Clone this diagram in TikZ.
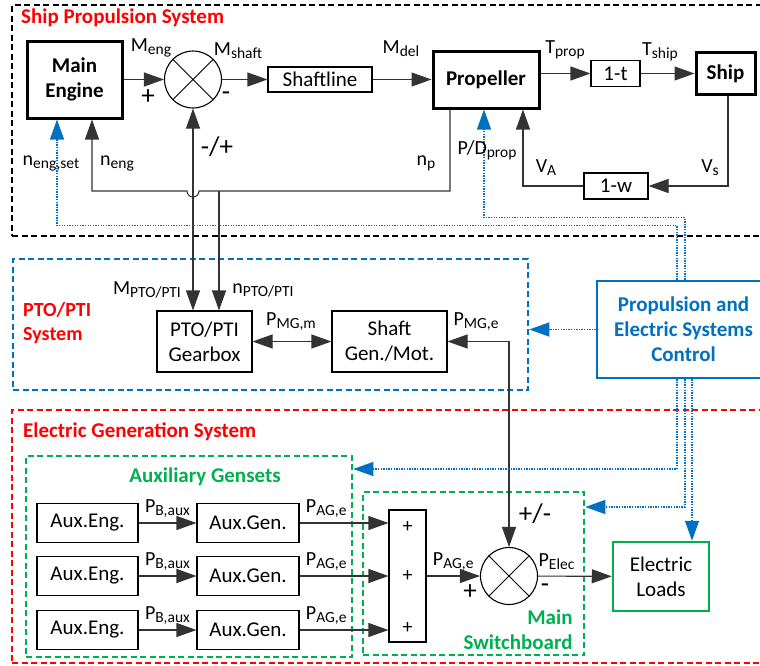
\documentclass[tikz,border=0pt]{standalone}
\usepackage{fontspec}
\setmainfont{Carlito}
\usepackage{tikz}
\usetikzlibrary{arrows.meta}
\usetikzlibrary{positioning}
\definecolor{sysred}{RGB}{255,0,0}
\definecolor{ctlblue}{RGB}{0,112,192}
\definecolor{grpgreen}{RGB}{0,176,80}
\newcommand{\lsub}[1]{\raisebox{-3pt}{\fontsize{15.5}{16}\selectfont #1}}

\begin{document}
\begin{tikzpicture}[x=1pt,y=-1pt,font=\fontsize{21}{25}\selectfont,
  >={Triangle[length=20pt,width=14pt]},
  line/.style={draw=black!80,line width=1.1pt},
  blk/.style={draw,line width=1.1pt,align=center,fill=white,inner sep=0pt},
  bigblk/.style={blk,line width=3pt,font=\fontsize{21}{25}\selectfont\bfseries},
  sumc/.style={circle,draw,line width=1.1pt,minimum size=57pt,inner sep=0pt,fill=white,
    path picture={\draw[line width=0.8pt] (path picture bounding box.north west) -- (path picture bounding box.south east)
      (path picture bounding box.north east) -- (path picture bounding box.south west);}},
  grp/.style={draw,line width=2.5pt,dash pattern=on 6pt off 3.5pt,inner sep=0pt},
  ttl/.style={font=\fontsize{21}{25}\selectfont\bfseries,align=left,inner sep=0pt},
  lbl/.style={font=\fontsize{20}{22}\selectfont,inner sep=0pt},
  sgn/.style={font=\fontsize{27}{27}\selectfont,inner sep=0pt},
  ctl/.style={draw=ctlblue,line width=1.3pt,dash pattern=on 1.3pt off 1.3pt}]

  \useasboundingbox (0,0) rectangle (760,665);
  \clip (0,0) rectangle (760,665);

  \node[grp,minimum width=758,minimum height=231] (shipsys) at (391,120.5) {};
  \node[grp,draw=ctlblue,minimum width=515,minimum height=131] (ptosys) at (270.5,324.5) {};
  \node[grp,draw=sysred,minimum width=758,minimum height=253] (elecsys) at (391,536.5) {};
  \node[grp,draw=grpgreen,minimum width=326,minimum height=201] (auxsys) at (189,556.5) {};
  \node[grp,draw=grpgreen,minimum width=221,minimum height=163] (mswsys) at (473.5,573.5) {};

  \node[ttl,text=sysred,anchor=west] (tship) at (21,18) {Ship Propulsion System};
  \node[ttl,text=sysred,anchor=west,font=\fontsize{20}{23.5}\selectfont\bfseries] (tpto) at (23,323) {PTO/PTI\\System};
  \node[ttl,text=sysred,anchor=west] (telec) at (23,432) {Electric Generation System};
  \node[ttl,text=grpgreen] (taux) at (205,477) {Auxiliary Gensets};
  \node[ttl,text=grpgreen,align=right] (tmsw) at (518,630) {Main\\Switchboard};

  % propulsion loop
  \node[bigblk,minimum width=95,minimum height=77] (meng) at (74.5,79.5) {Main\\Engine};
  \node[sumc] (sum1) at (193,79.5) {};
  \node[blk,minimum width=104,minimum height=25] (shaft) at (320,79.5) {Shaftline};
  \node[bigblk,minimum width=106,minimum height=57] (prop) at (486,79.5) {Propeller};
  \node[blk,minimum width=49,minimum height=26] (onet) at (615.5,73.5) {1-t};
  \node[bigblk,minimum width=59,minimum height=42] (ship) at (725.5,73.5) {Ship};
  \node[blk,minimum width=64,minimum height=26] (onew) at (616,186) {1-w};
  \coordinate (hop) at (193,191);
  \coordinate (nsplit) at (219,191);

  \draw[line,->] (meng) -- (sum1);
  \draw[line,->] (sum1) -- (shaft);
  \draw[line,->] (shaft) -- (prop);
  \draw[line,->] (prop.east |- onet) -- (onet);
  \draw[line,->] (onet) -- (ship);
  \draw[line,->] ([xshift=2.5]ship.south) |- (onew);
  \draw[line,->] (onew) -| ([xshift=37]prop.south);
  \draw[line,->] ([xshift=-36]prop.south) |- ([xshift=6]hop) arc[start angle=0,end angle=180,radius=6] -| ([xshift=17.5]meng.south);

  % PTO/PTI
  \node[blk,minimum width=95,minimum height=61] (gear) at (204.5,341.5) {PTO/PTI\\Gearbox};
  \node[blk,minimum width=115,minimum height=61] (sgen) at (389.5,341.5) {Shaft\\Gen./Mot.};
  \draw[line,<->] (sum1) -- (sum1 |- gear.north);
  \draw[line,->] (nsplit) -- (nsplit |- gear.north);
  \draw[line,<->] (gear) -- (sgen);

  % electric side
  \node[blk,minimum width=101,minimum height=39] (aeng1) at (87.5,523) {Aux.Eng.};
  \node[blk,minimum width=101,minimum height=39] (aeng2) at (87.5,576) {Aux.Eng.};
  \node[blk,minimum width=101,minimum height=39] (aeng3) at (87.5,630) {Aux.Eng.};
  \node[blk,minimum width=102,minimum height=39] (agen1) at (248,523) {Aux.Gen.};
  \node[blk,minimum width=102,minimum height=39] (agen2) at (248,576) {Aux.Gen.};
  \node[blk,minimum width=102,minimum height=39] (agen3) at (248,630) {Aux.Gen.};
  \node[blk,minimum width=37,minimum height=132] (bus) at (407.5,576) {};
  \node[lbl] (bp1) at (407.5,527) {+};
  \node[lbl] (bp2) at (407.5,576) {+};
  \node[lbl] (bp3) at (407.5,628) {+};
  \node[sumc] (sum2) at (509,576) {};
  \node[blk,draw=grpgreen,line width=2.5pt,minimum width=96,minimum height=69] (loads) at (661,576.5) {Electric\\Loads};

  \draw[line,->] (aeng1) -- node[lbl,above=5pt] (pb1) {P\lsub{B,aux}} (agen1);
  \draw[line,->] (aeng2) -- node[lbl,above=5pt] (pb2) {P\lsub{B,aux}} (agen2);
  \draw[line,->] (aeng3) -- node[lbl,above=5pt] (pb3) {P\lsub{B,aux}} (agen3);
  \draw[line,->] (agen1) -- node[lbl,above=5pt,pos=0.3] (pa1) {P\lsub{AG,e}} (agen1 -| bus.west);
  \draw[line,->] (agen2) -- node[lbl,above=5pt,pos=0.3] (pa2) {P\lsub{AG,e}} (agen2 -| bus.west);
  \draw[line,->] (agen3) -- node[lbl,above=5pt,pos=0.3] (pa3) {P\lsub{AG,e}} (agen3 -| bus.west);
  \draw[line,->] (bus) -- node[lbl,above=5pt] (pab) {P\lsub{AG,e}} (sum2);
  \draw[line,->] (sum2) -- node[lbl,above=6pt,pos=0.25] (pel) {P\lsub{Elec}} (loads);
  \draw[line,<->] (sgen) -| (sum2);

  % control
  \node[blk,draw=ctlblue,line width=2.5pt,text=ctlblue,font=\fontsize{21}{25}\selectfont\bfseries,
    minimum width=173,minimum height=97] (ctrl) at (683.5,329.5) {Propulsion and\\Electric Systems\\Control};
  \draw[ctl,->] (ctrl) -- (ctrl -| ptosys.east);
  \draw[ctl,->] ([xshift=-6.5]ctrl.north) -- ++(0,-54) -| ([xshift=-17.5]meng.south);
  \draw[ctl,->] ([xshift=1.5]ctrl.north) -- ++(0,-62) -| ([xshift=-2]prop.south);
  \draw[ctl,->] ([xshift=-6.5]ctrl.south) |- ([yshift=87.5]auxsys.east);
  \draw[ctl,->] ([xshift=1.5]ctrl.south) |- ([yshift=66.5]mswsys.east);
  \draw[ctl,->] ([xshift=8.5]ctrl.south) -- ([xshift=8.5]ctrl.south |- loads.north);

  % signal labels
  \node[lbl] (lmeng) at (151,48) {M\lsub{eng}};
  \node[sgn] (lplus1) at (148,97) {+};
  \node[lbl] (lmshaft) at (238,51) {M\lsub{shaft}};
  \node[sgn] (lminus1) at (226,96) {-};
  \node[lbl] (lmdel) at (401,49) {M\lsub{del}};
  \node[lbl] (ltprop) at (565,50) {T\lsub{prop}};
  \node[lbl] (ltship) at (660,52) {T\lsub{ship}};
  \node[lbl] (lvs) at (710,168) {V\lsub{s}};
  \node[lbl] (lva) at (546,168) {V\lsub{A}};
  \node[lbl] (lnp) at (426,163) {n\lsub{p}};
  \node[lbl] (lpd) at (487,150) {P/D\lsub{prop}};
  \node[lbl] (lneng) at (117,163) {n\lsub{eng}};
  \node[lbl] (lnset) at (51,163) {n\lsub{eng,set}};
  \node[sgn] (lmp) at (217,147) {-/+};
  \node[lbl] (lmpto) at (147,290) {M\lsub{PTO/PTI}};
  \node[lbl] (lnpto) at (263,290) {n\lsub{PTO/PTI}};
  \node[lbl] (lpmgm) at (291,322) {P\lsub{MG,m}};
  \node[lbl] (lpmge) at (476,322) {P\lsub{MG,e}};
  \node[sgn] (lpm) at (535,514) {+/-};
  \node[sgn] (lplus2) at (470,592) {+};
  \node[sgn] (lminus2) at (545,588) {-};
\end{tikzpicture}
\end{document}
